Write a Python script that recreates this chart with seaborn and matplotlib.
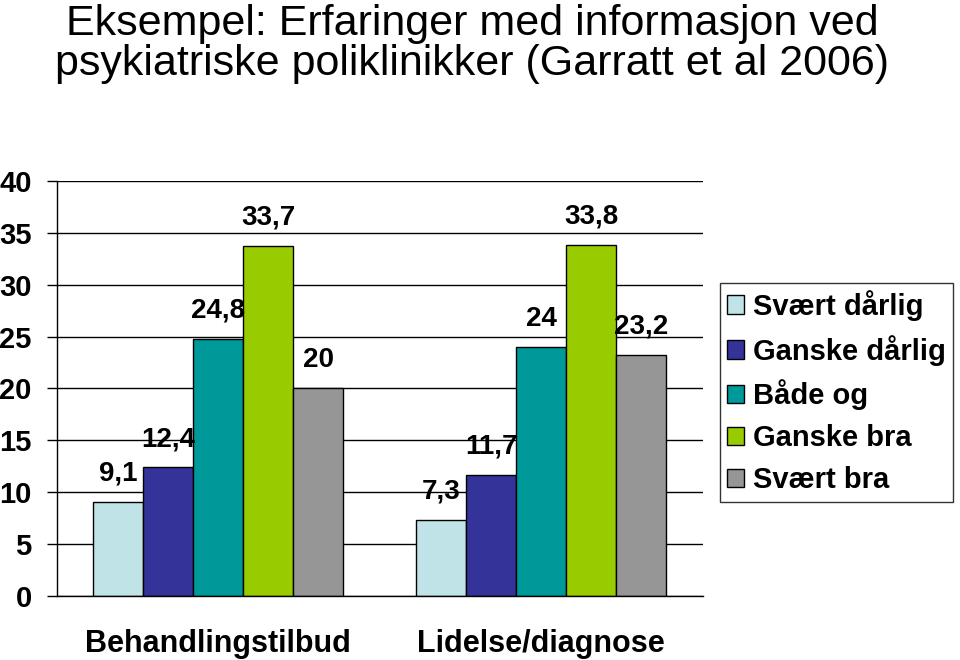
import pandas as pd
import matplotlib
matplotlib.use("Agg")
import matplotlib.pyplot as plt
import seaborn as sns

# data
categories = ["Behandlingstilbud", "Lidelse/diagnose"]
answers = ["Svært dårlig", "Ganske dårlig", "Både og", "Ganske bra", "Svært bra"]
behandling = [9.1, 12.4, 24.8, 33.7, 20.0]
lidelse = [7.3, 11.7, 24.0, 33.8, 23.2]
colors = ["#bfe3e6", "#333399", "#009999", "#99cc00", "#969696"]

df = pd.DataFrame({
    "kategori": [categories[0]] * 5 + [categories[1]] * 5,
    "svar": answers * 2,
    "prosent": behandling + lidelse,
})

sns.set_style("white")
plt.rcParams["font.family"] = ["Liberation Sans", "DejaVu Sans"]
plt.rcParams["text.color"] = "black"
plt.rcParams["xtick.color"] = "black"
plt.rcParams["ytick.color"] = "black"

fig = plt.figure(figsize=(9.6, 6.6), dpi=100)
ax = fig.add_axes([0.059, 0.097, 0.673, 0.629])

sns.barplot(data=df, x="kategori", y="prosent", hue="svar", hue_order=answers,
            palette=colors, width=0.775, edgecolor="black", linewidth=1,
            saturation=1, ax=ax, legend=True)

# value labels above bars, comma as decimal sign
for cont in ax.containers:
    labels = [f"{v:g}".replace(".", ",") for v in cont.datavalues]
    ax.bar_label(cont, labels=labels, padding=11, fontsize=20, fontweight="bold")

ax.set_ylim(0, 40)
ax.set_xlim(-0.5, 1.5)
ax.set_yticks(range(0, 41, 5))
ax.yaxis.grid(True, color="black", linewidth=1)
ax.set_axisbelow(True)
ax.tick_params(axis="y", direction="out", length=7, width=1,
               labelsize=21, pad=11, left=True)
for lbl in ax.get_yticklabels():
    lbl.set_fontweight("bold")

ax.set_xticks([0, 1])
ax.set_xticklabels(categories, fontsize=22, fontweight="bold")
ax.tick_params(axis="x", which="major", length=0, pad=24)
ax.set_xticks([-0.5, 0.5, 1.5], minor=True)
ax.tick_params(axis="x", which="minor", length=8, width=1, direction="out")
ax.set_xlabel("")
ax.set_ylabel("")

for side in ["top", "right"]:
    ax.spines[side].set_visible(False)
for side in ["left", "bottom"]:
    ax.spines[side].set_color("black")
    ax.spines[side].set_linewidth(1)

leg = ax.legend(loc="upper left", bbox_to_anchor=(1.026, 0.755), frameon=True,
                fancybox=False, edgecolor="black", handlelength=0.6,
                handleheight=0.6, handletextpad=0.3, labelspacing=0.48,
                borderpad=0.25, borderaxespad=0,
                prop={"size": 21, "weight": "bold"})
leg.get_frame().set_linewidth(1)

fig.text(0.492, 0.934, "Eksempel: Erfaringer med informasjon ved\npsykiatriske poliklinikker (Garratt et al 2006)",
         fontsize=31, va="center", ha="center", multialignment="center", linespacing=1.0)

fig.savefig("out.png", dpi=100)
